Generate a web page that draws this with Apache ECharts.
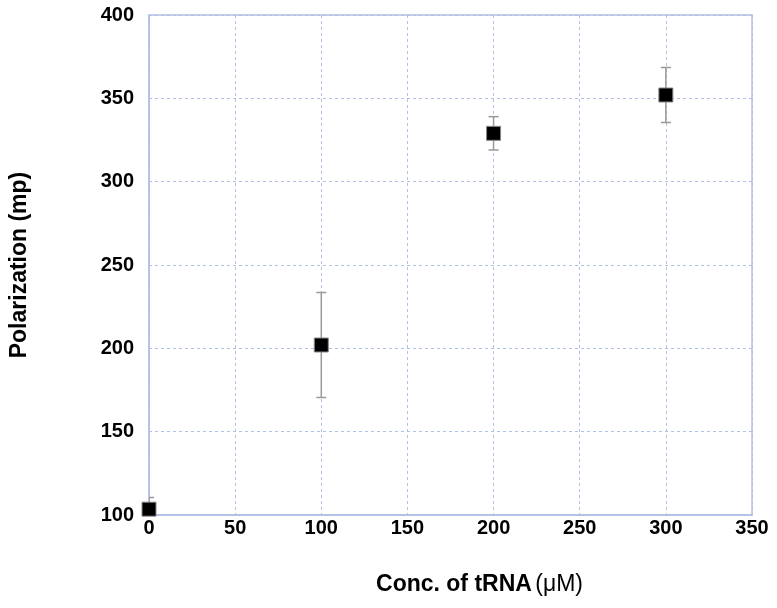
<!DOCTYPE html>
<html>
<head>
<meta charset="utf-8">
<script src="https://cdn.jsdelivr.net/npm/echarts@6/dist/echarts.min.js"></script>
<style>
  html, body { margin: 0; padding: 0; background: #fff; }
  #chart { width: 777px; height: 608px; }
</style>
</head>
<body>
<div id="chart"></div>
<script>
// data
var concs = [0, 100, 200, 300];
var polar = [103.5, 202, 329, 352];
var errs = [7, 31.5, 10, 16.5];

var xTicks = [0, 50, 100, 150, 200, 250, 300, 350];
var yTicks = [100, 150, 200, 250, 300, 350, 400];

var chart = echarts.init(document.getElementById('chart'));

var pts = concs.map(function (c, i) { return [c, polar[i]]; });
var bars = concs.map(function (c, i) { return [c, polar[i] - errs[i], polar[i] + errs[i]]; });

var lineCol = '#b3c0e6';
var font = 'Liberation Sans, Arial';

chart.setOption({
    animation: false,
    grid: {
        left: 149, right: 25, top: 15, bottom: 93,
        show: true, borderColor: lineCol, borderWidth: 1.5
    },
    xAxis: {
        type: 'value',
        min: xTicks[0], max: xTicks[xTicks.length - 1], interval: 50,
        axisLine: { show: true, lineStyle: { color: lineCol, width: 1.5 } },
        axisTick: { show: false },
        splitLine: { show: true, lineStyle: { color: lineCol, type: [3, 3], width: 1 } },
        axisLabel: { color: '#000', fontFamily: font, fontWeight: 'bold', fontSize: 20, margin: 3 },
        name: '{b|Conc. of tRNA} {n|(\u03bcM)}',
        nameLocation: 'middle', nameGap: 58,
        nameTextStyle: {
            padding: [0, 0, 0, 58],
            rich: {
                b: { fontFamily: font, fontWeight: 'bold', fontSize: 23, color: '#000' },
                n: { fontFamily: font, fontSize: 23, color: '#000' }
            }
        }
    },
    yAxis: {
        type: 'value',
        min: yTicks[0], max: yTicks[yTicks.length - 1], interval: 50,
        axisLine: { show: true, lineStyle: { color: lineCol, width: 1.5 } },
        axisTick: { show: false },
        splitLine: { show: true, lineStyle: { color: lineCol, type: [3, 3], width: 1 } },
        axisLabel: { color: '#000', fontFamily: font, fontWeight: 'bold', fontSize: 20, margin: 15 },
        name: 'Polarization (mp)',
        nameLocation: 'middle', nameGap: 118,
        nameTextStyle: { color: '#000', fontFamily: font, fontWeight: 'bold', fontSize: 23 }
    },
    series: [
        {
            type: 'custom',
            clip: true,
            z: 2,
            data: bars,
            renderItem: function (params, api) {
                var x = api.value(0);
                var lo = api.coord([x, api.value(1)]);
                var hi = api.coord([x, api.value(2)]);
                var st = { stroke: '#999', lineWidth: 1.5 };
                var cap = 5;
                return {
                    type: 'group',
                    children: [
                        { type: 'line', shape: { x1: lo[0], y1: lo[1], x2: hi[0], y2: hi[1] }, style: st },
                        { type: 'line', shape: { x1: lo[0] - cap, y1: lo[1], x2: lo[0] + cap, y2: lo[1] }, style: st },
                        { type: 'line', shape: { x1: hi[0] - cap, y1: hi[1], x2: hi[0] + cap, y2: hi[1] }, style: st }
                    ]
                };
            }
        },
        {
            type: 'scatter',
            z: 3,
            data: pts,
            symbol: 'rect',
            symbolSize: 14,
            itemStyle: { color: '#000', borderColor: '#888', borderWidth: 1, opacity: 1 }
        }
    ]
});
</script>
</body>
</html>
